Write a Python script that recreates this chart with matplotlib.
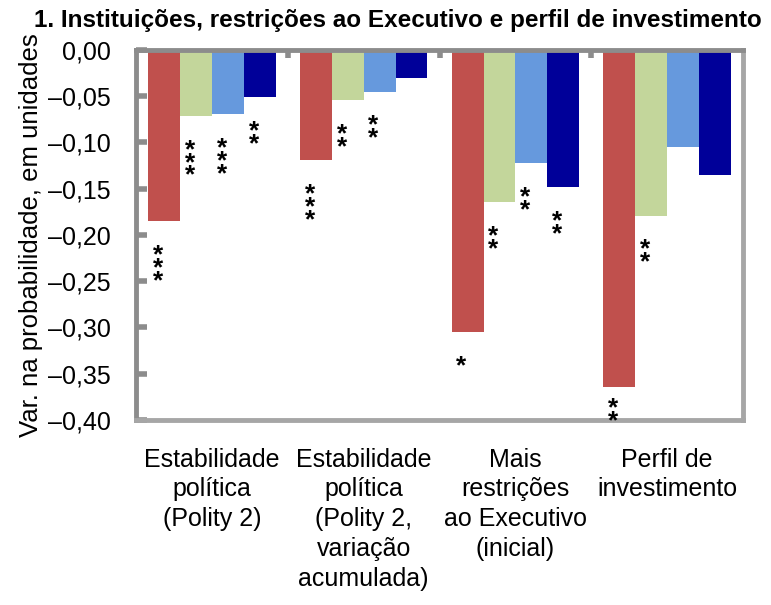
import numpy as np
import matplotlib.pyplot as plt
from matplotlib.ticker import FuncFormatter, MultipleLocator

plt.rcParams['font.family'] = ['Liberation Sans Narrow', 'Liberation Sans', 'DejaVu Sans']

# dados
categorias = ['Estabilidade\npolítica\n(Polity 2)',
              'Estabilidade\npolítica\n(Polity 2,\nvariação\nacumulada)',
              'Mais\nrestrições\nao Executivo\n(inicial)',
              'Perfil de\ninvestimento']
serie1 = [-0.185, -0.119, -0.305, -0.364]
serie2 = [-0.071, -0.054, -0.164, -0.179]
serie3 = [-0.069, -0.045, -0.122, -0.105]
serie4 = [-0.051, -0.030, -0.148, -0.135]
sig1 = ['***', '***', '*', '**']
sig2 = ['***', '**', '**', '**']
sig3 = ['***', '**', '**', '']
sig4 = ['**', '', '**', '']

series = [serie1, serie2, serie3, serie4]
sigs = [sig1, sig2, sig3, sig4]
cores = ['#C0504D', '#C3D69B', '#6699DD', '#000099']

fig = plt.figure(figsize=(7.71, 6.05), dpi=100)
ax = fig.add_axes([0.1764, 0.3058, 0.7873, 0.6116])

x = np.arange(len(categorias))
largura = 0.21
passo = 0.0118  # espaço vertical entre asteriscos (unidades do eixo)
for i, (vals, cor, sg) in enumerate(zip(series, cores, sigs)):
    pos = x + (i - 1.5) * largura
    ax.bar(pos, vals, width=largura, color=cor, edgecolor='none')
    for xp, v, s in zip(pos, vals, sg):
        if not s:
            continue
        # asteriscos empilhados abaixo da barra
        topo = v - 0.024
        if topo - passo * len(s) < -0.398:
            topo = -0.398 + passo * len(s)
        ax.text(xp - 0.04, topo, '\n'.join(s), ha='center', va='top',
                fontsize=19, fontweight='bold', linespacing=0.42,
                family='Liberation Sans')

ax.set_xlim(-0.5, 3.5)
ax.set_ylim(-0.40, 0.0)
ax.yaxis.set_major_locator(MultipleLocator(0.05))
ax.yaxis.set_major_formatter(FuncFormatter(
    lambda v, p: ('–' if v < -1e-9 else '') + f'{abs(v):.2f}'.replace('.', ',')))

ax.set_xticks(x)
ax.set_xticklabels(categorias, fontsize=18, linespacing=1.3)
ax.set_xticks([0.5, 1.5, 2.5], minor=True)
ax.tick_params(axis='x', which='major', length=0, pad=20)
ax.tick_params(axis='x', which='minor', bottom=False, top=True, direction='in',
               length=6, width=4, color='#8C8C8C')
ax.tick_params(axis='y', direction='in', length=8, width=4, color='#8C8C8C',
               labelsize=18, pad=18)

for lado in ['top', 'left']:
    ax.spines[lado].set_color('#8C8C8C')
    ax.spines[lado].set_linewidth(3.5)
for lado in ['bottom', 'right']:
    ax.spines[lado].set_color('#A6A6A6')
    ax.spines[lado].set_linewidth(3.5)

ax.set_ylabel('Var. na probabilidade, em unidades', fontsize=18.5, labelpad=4)
fig.text(0.516, 0.985, '1. Instituições, restrições ao Executivo e perfil de investimento',
         ha='center', va='top', fontsize=17.5, fontweight='bold')

fig.savefig('out.png', dpi=100)
